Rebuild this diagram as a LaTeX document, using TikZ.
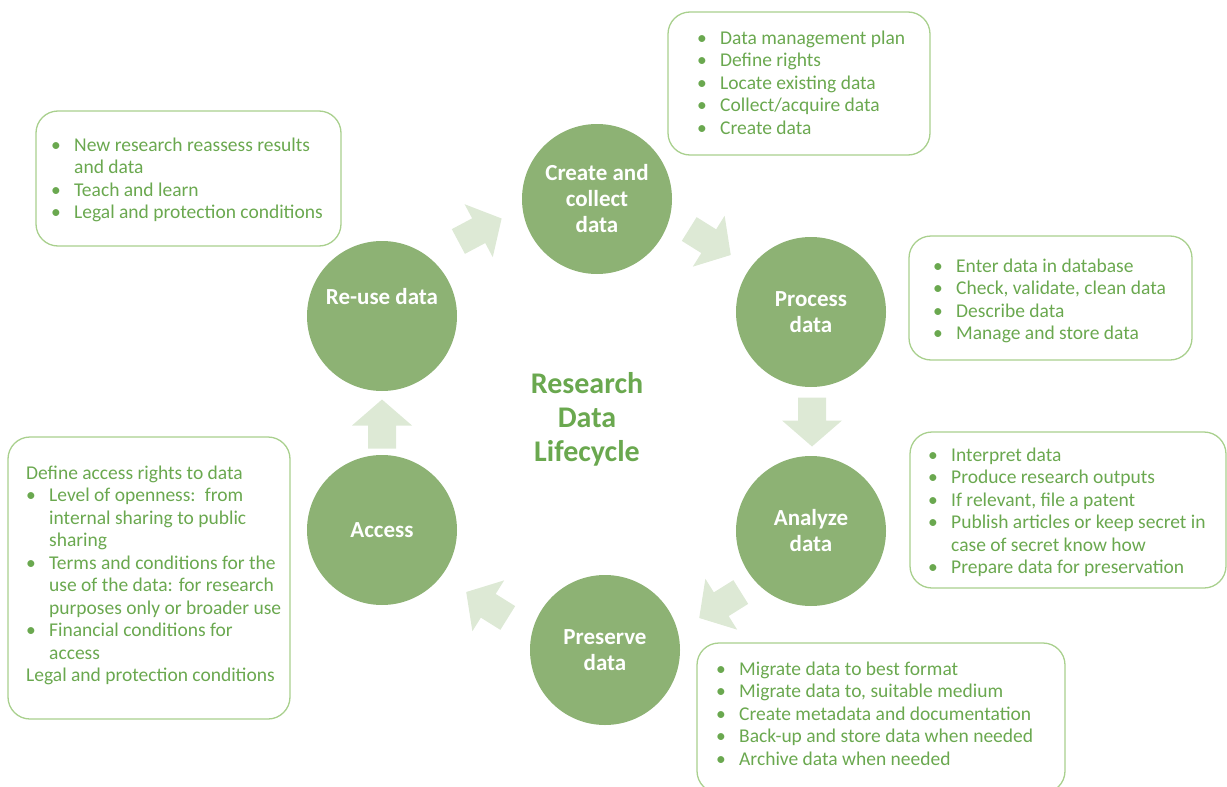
\documentclass[tikz,border=0pt]{standalone}
\usepackage{fontspec}
\setmainfont{Carlito}
\usetikzlibrary{positioning}

\definecolor{leaf}{RGB}{141,178,116}
\definecolor{ink}{RGB}{106,168,79}
\definecolor{rim}{RGB}{169,208,142}
\definecolor{pale}{RGB}{221,233,213}

\tikzset{
  stage/.style={circle, fill=leaf, minimum size=150pt, inner sep=0pt,
    text=white, align=center, font=\fontsize{23}{26}\selectfont\bfseries},
  notebox/.style={draw=rim, line width=1.3pt, rounded corners=22pt, inner sep=0pt},
  % anchored on the baseline of the last line
  notes/.style={anchor=base west, inner sep=0pt, text=ink, align=left,
    font=\fontsize{19.5}{22.5}\selectfont},
  flow/.pic={
    \fill[pale] (-24.5,-14) -- (-1.5,-14) -- (-1.5,-30) -- (24.5,0)
      -- (-1.5,30) -- (-1.5,14) -- (-24.5,14) -- cycle;
  }
}
\newcommand{\bul}{\makebox[23pt][l]{\textbullet}}
\newcommand{\sub}{\hspace*{23pt}}

\begin{document}
\begin{tikzpicture}[x=1pt, y=-1pt]
    \useasboundingbox (0,0) rectangle (1227,787);

    % Stages of the cycle
    \node[stage] (create) at (597,199) {Create and\\collect\\data};
    \node[stage] (process) at (811,312) {Process\\data};
    \node[stage] (analyze) at (811,531) {Analyze\\data};
    \node[stage] (preserve) at (605,650) {Preserve\\data};
    \node[stage] (access) at (382,530) {Access};
    \node[stage] (reuse) at (382,316) {};
    \node[text=white, font=\fontsize{23}{26}\selectfont\bfseries] (reusetxt)
        at ([yshift=19pt]reuse.center) {Re-use data};

    % Centre title
    \node[text=ink, align=center, font=\fontsize{30}{34}\selectfont\bfseries] (title)
        at (587,419) {Research\\Data\\Lifecycle};

    % Block arrows between the stages (x/y/angle)
    \foreach \x/\y/\a in {480/230/28, 710/242/-32, 812/422/-90,
                          720/605/-148, 487/605/148, 382/424/90} {
        \pic[rotate=\a] at (\x,\y) {flow};
    }

    % Note boxes
    \node[notebox, minimum width=262pt, minimum height=143pt] (createbox) at (799,83.5) {};
    \node[notebox, minimum width=305pt, minimum height=135pt] (reusebox) at (188.5,178.5) {};
    \node[notebox, minimum width=283pt, minimum height=124pt] (processbox) at (1050.5,298) {};
    \node[notebox, minimum width=316pt, minimum height=156pt] (analyzebox) at (1068,510) {};
    \node[notebox, minimum width=282pt, minimum height=282pt] (accessbox) at (149,578) {};
    \node[notebox, minimum width=368pt, minimum height=150pt] (preservebox) at (881,718) {};

    % Note texts
    \node[notes] (createtxt) at (697,134) {\bul Data management plan\\
        \bul Define rights\\ \bul Locate existing data\\
        \bul Collect/acquire data\\ \bul Create data};
    \node[notes] (reusenotes) at (51,218.5) {\bul New research reassess results\\
        \sub and data\\ \bul Teach and learn\\
        \bul Legal and protection conditions};
    \node[notes] (processtxt) at (933,339.5) {\bul Enter data in database\\
        \bul Check, validate, clean data\\ \bul Describe data\\
        \bul Manage and store data};
    \node[notes] (analyzetxt) at (928,573.5) {\bul Interpret data\\
        \bul Produce research outputs\\ \bul If relevant, file a patent\\
        \bul Publish articles or keep secret in\\ \sub case of secret know how\\
        \bul Prepare data for preservation};
    \node[notes] (accesstxt) at (26,681.5) {Define access rights to data\\
        \bul Level of openness:\, from\\ \sub internal sharing to public\\
        \sub sharing\\ \bul Terms and conditions for the\\
        \sub use of the data: for research\\ \sub purposes only or broader use\\
        \bul Financial conditions for\\ \sub access\\
        Legal and protection conditions};
    \node[notes] (preservetxt) at (716,765) {\bul Migrate data to best format\\
        \bul Migrate data to, suitable medium\\
        \bul Create metadata and documentation\\
        \bul Back-up and store data when needed\\
        \bul Archive data when needed};
\end{tikzpicture}
\end{document}
